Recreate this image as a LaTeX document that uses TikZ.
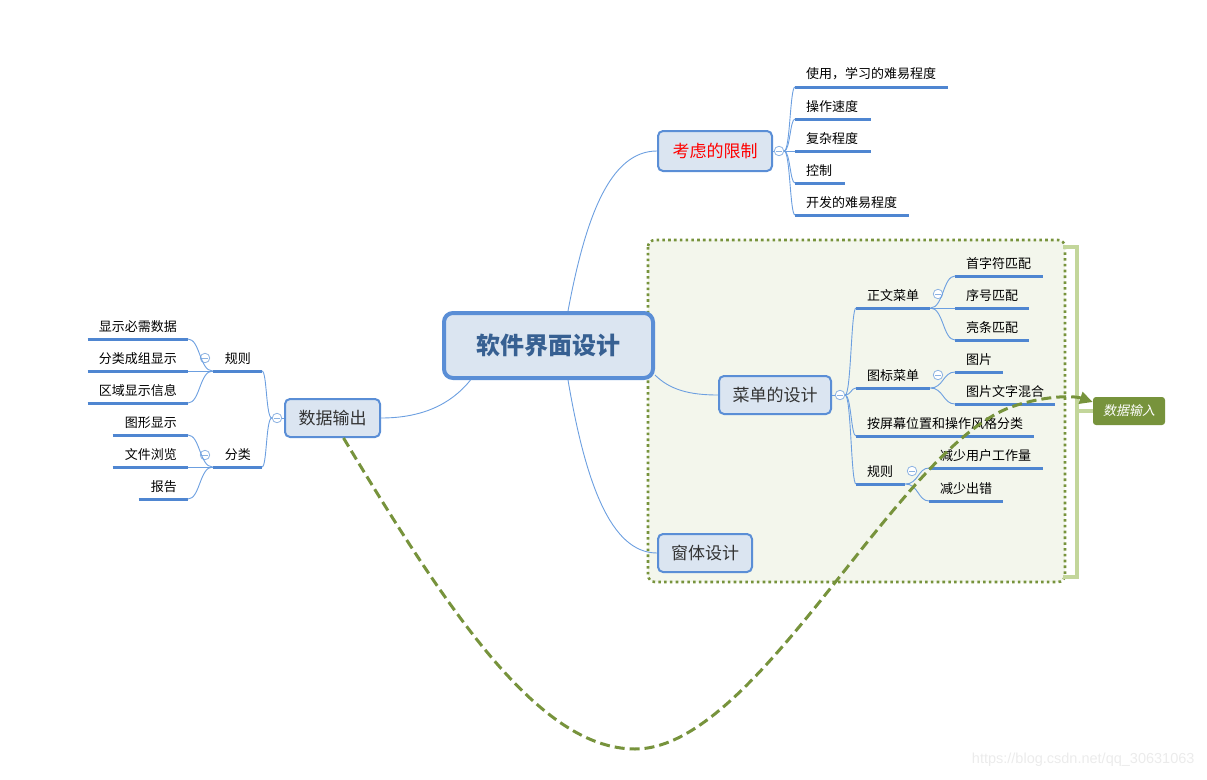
\documentclass[tikz,border=0pt]{standalone}
\usepackage{fontspec}
\setmainfont{Noto Sans CJK SC}
\newfontfamily\slantfont{Noto Sans CJK SC}[FakeSlant=0.2]
\newfontfamily\urlfont{Liberation Sans}
\usepackage{xcolor}
\usetikzlibrary{arrows.meta}

\definecolor{boxfill}{HTML}{DBE5F1}
\definecolor{boxline}{HTML}{5A8ED6}
\definecolor{hubtext}{HTML}{376092}
\definecolor{ulblue}{HTML}{4F86D1}
\definecolor{twigblue}{HTML}{6C9FE0}
\definecolor{knobblue}{HTML}{8DB3E2}
\definecolor{olive}{HTML}{77933C}
\definecolor{zonefill}{HTML}{F3F6EC}
\definecolor{bracegreen}{HTML}{C3D69B}

\begin{document}
\begin{tikzpicture}[
    x=1pt, y=-1pt,
    mindbox/.style={rectangle, rounded corners=5pt, draw=boxline, fill=boxfill,
                    line width=2pt, inner sep=0pt, text=black!80,
                    font=\fontsize{17}{20}\selectfont},
    hub/.style={mindbox, line width=4pt, rounded corners=9pt, text=hubtext,
                font=\fontsize{24}{28}\selectfont\bfseries},
    leafR/.style={anchor=south west, inner xsep=11pt, inner ysep=6.5pt,
                  text width=#1, align=left, font=\fontsize{13}{15}\selectfont},
    leafL/.style={leafR=#1, anchor=south east, align=right},
    uline/.style={draw=ulblue, line width=3pt},
    twig/.style={draw=twigblue, line width=0.9pt},
    knob/.style={circle, draw=knobblue, fill=white, line width=0.8pt,
                 minimum size=9.5pt, inner sep=0pt,
                 path picture={\draw[knobblue, line width=0.8pt]
                   ([xshift=-2.6pt]path picture bounding box.center) --
                   ([xshift=2.6pt]path picture bounding box.center);}},
    zone/.style={draw=olive, fill=zonefill, line width=2.6pt,
                 dash pattern=on 2.6pt off 3.2pt, rounded corners=7pt},
    brace/.style={draw=bracegreen, line width=4pt},
    tag/.style={fill=olive, text=white, rounded corners=3pt, inner sep=0pt,
                minimum width=72pt, minimum height=28pt,
                font=\slantfont\fontsize{13}{15}\selectfont},
    relation/.style={draw=olive, line width=3pt, dash pattern=on 10pt off 5pt,
                     -{Triangle[length=13pt, width=12pt]}},
]
    \useasboundingbox (0,0) rectangle (1207,779);

    % ── Boundary round the menu part ──────────────
    \draw[zone] (648,240) rectangle (1065,582);
    \draw[brace] (1063,247) -- (1077,247) -- (1077,577) -- (1063,577);

    % ── Main topics ───────────────────────────────
    \node[hub, minimum width=209pt, minimum height=65pt] (sw) at (548.5,345.5) {软件界面设计};
    \node[mindbox, text=red, minimum width=114pt, minimum height=40pt] (lim) at (715,151) {考虑的限制};
    \node[mindbox, minimum width=112pt, minimum height=38pt] (menu) at (775,395) {菜单的设计};
    \node[mindbox, minimum width=94pt, minimum height=38pt] (form) at (705,553) {窗体设计};
    \node[mindbox, minimum width=95pt, minimum height=38pt] (out) at (332.5,418) {数据输出};
    \node[tag] (dsr) at (1129,411) {数据输入};
    \draw[brace] (1077,411) -- (dsr.west);

    % ── Collapse knobs ────────────────────────────
    \node[knob] (kn-lim)   at (779,151) {};
    \node[knob] (kn-menu)  at (840,395) {};
    \node[knob] (kn-text)  at (938,294) {};
    \node[knob] (kn-icon)  at (938,375) {};
    \node[knob] (kn-rule)  at (912,471) {};
    \node[knob] (kn-out)   at (277,418) {};
    \node[knob] (kn-orule) at (205,358) {};
    \node[knob] (kn-kind)  at (205,455) {};

    % ── Leaves: limits ────────────────────────────
    \node[leafR=131pt] (lim1) at (795,87)  {使用，学习的难易程度};
    \node[leafR=54pt]  (lim2) at (795,119) {操作速度};
    \node[leafR=54pt]  (lim3) at (795,151) {复杂程度};
    \node[leafR=28pt]  (lim4) at (795,183) {控制};
    \node[leafR=92pt]  (lim5) at (795,215) {开发的难易程度};

    % ── Leaves: menu design ───────────────────────
    \node[leafR=52pt]  (menu1) at (856,308) {正文菜单};
    \node[leafR=52pt]  (menu2) at (856,388) {图标菜单};
    \node[leafR=156pt] (menu3) at (856,436) {按屏幕位置和操作风格分类};
    \node[leafR=27pt]  (menu4) at (856,484) {规则};
    \node[leafR=66pt]  (txt1)  at (955,276) {首字符匹配};
    \node[leafR=52pt]  (txt2)  at (955,308) {序号匹配};
    \node[leafR=52pt]  (txt3)  at (955,340) {亮条匹配};
    \node[leafR=26pt]  (icon1) at (955,372) {图片};
    \node[leafR=78pt]  (icon2) at (955,404) {图片文字混合};
    \node[leafR=92pt]  (rule1) at (929,468) {减少用户工作量};
    \node[leafR=52pt]  (rule2) at (929,501) {减少出错};

    % ── Leaves: data output ───────────────────────
    \node[leafL=27pt] (out1)   at (262,371) {规则};
    \node[leafL=27pt] (out2)   at (262,467) {分类};
    \node[leafL=78pt] (orule1) at (188,339) {显示必需数据};
    \node[leafL=78pt] (orule2) at (188,371) {分类成组显示};
    \node[leafL=78pt] (orule3) at (188,403) {区域显示信息};
    \node[leafL=53pt] (kind1)  at (188,435) {图形显示};
    \node[leafL=53pt] (kind2)  at (188,467) {文件浏览};
    \node[leafL=27pt] (kind3)  at (188,499) {报告};

    \foreach \n in {lim1,lim2,lim3,lim4,lim5,menu1,menu2,menu3,menu4,txt1,txt2,txt3,
                    icon1,icon2,rule1,rule2,out1,out2,orule1,orule2,orule3,kind1,kind2,kind3}
        \draw[uline] (\n.south west) -- (\n.south east);

    % ── Hub connectors ────────────────────────────
    \draw[twig] ([xshift=19.5pt]sw.north) .. controls +(17,-91) and +(-48,0) .. (lim.west);
    \draw[twig] ([xshift=19.5pt]sw.south) .. controls +(17,100) and +(-47,0) .. (form.west);
    \draw[twig] ([yshift=5pt]sw.south east) .. controls +(15,15) and +(-28,0) .. (menu.west);
    \draw[twig] ([xshift=-78pt]sw.south) .. controls +(-20,25) and +(40,0) .. (out.east);

    % ── Branches ──────────────────────────────────
    \draw[twig] (lim.east) -- (kn-lim.west);
    \draw[twig] (menu.east) -- (kn-menu.west);
    \draw[twig] (out.west) -- (kn-out.east);
    \foreach \i in {1,...,5}
        \draw[twig] (kn-lim.east) .. controls +(6,0) and +(-5,0) .. (lim\i.south west);
    \foreach \i in {1,...,4}
        \draw[twig] (kn-menu.east) .. controls +(6,0) and +(-5,0) .. (menu\i.south west);
    \foreach \i in {1,2,3}
        \draw[twig] (menu1.south east) .. controls +(13,0) and +(-12,0) .. (txt\i.south west);
    \foreach \i in {1,2}
        \draw[twig] (menu2.south east) .. controls +(13,0) and +(-12,0) .. (icon\i.south west);
    \foreach \i in {1,2}
        \draw[twig] (menu4.south east) .. controls +(13,0) and +(-11,0) .. (rule\i.south west);
    \foreach \i in {1,2}
        \draw[twig] (kn-out.west) .. controls +(-6,0) and +(5,0) .. (out\i.south east);
    \foreach \i in {1,2,3}
        \draw[twig] (out1.south west) .. controls +(-13,0) and +(12,0) .. (orule\i.south east);
    \foreach \i in {1,2,3}
        \draw[twig] (out2.south west) .. controls +(-13,0) and +(12,0) .. (kind\i.south east);

    % ── Relation: output -> input ─────────────────
    \draw[relation] ([xshift=11pt]out.south) .. controls (450,615) and (540,749) .. (635,749)
        .. controls (760,749) and (900,440) .. (1017,405)
        .. controls (1050,395) and (1075,396) .. ([yshift=9pt]dsr.west);

    \node[anchor=east, text=black!8, font=\urlfont\fontsize{14.5}{16}\selectfont]
        (mark) at (1198,760) {https://blog.csdn.net/qq\_30631063};
\end{tikzpicture}
\end{document}
